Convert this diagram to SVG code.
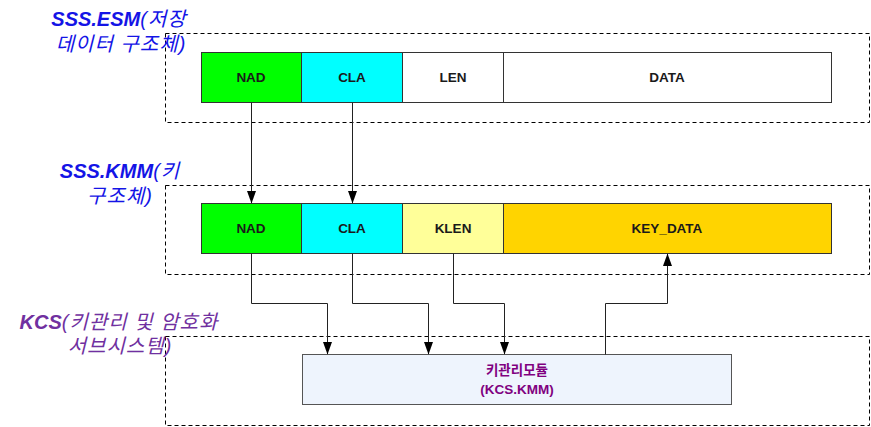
<svg xmlns="http://www.w3.org/2000/svg" width="871" height="427" viewBox="0 0 871 427">
<defs>
<marker id="ah" markerWidth="13" markerHeight="10" refX="12" refY="4.5" orient="auto" markerUnits="userSpaceOnUse">
<path d="M0,0 L12.5,4.5 L0,9 Z" fill="#000"/>
</marker>
<style>
.grp{fill:none;stroke:#000;stroke-width:1;stroke-dasharray:4 3}
.fld{stroke:#333;stroke-width:1}
.ft{font-family:"Liberation Sans","Noto Sans CJK KR",sans-serif;font-size:13.5px;font-weight:bold;fill:#1a1a1a;text-anchor:middle}
.lbl{font-family:"Liberation Sans","Noto Sans CJK KR",sans-serif;font-size:20px;font-style:italic;text-anchor:middle;letter-spacing:1px}
.conn{fill:none;stroke:#222;stroke-width:1;marker-end:url(#ah)}
</style>
</defs>
<rect width="871" height="427" fill="#fff"/>

<g id="esm">
<rect class="grp" x="165.5" y="33.5" width="704" height="89"/>
<text class="lbl" fill="#1414e6"><tspan x="119" y="26"><tspan font-weight="bold" letter-spacing="0">SSS.ESM</tspan>(저장</tspan><tspan x="121" y="51">데이터 구조체)</tspan></text>
</g>
<g id="esm-nad"><rect class="fld" x="201.5" y="52.5" width="100" height="50" fill="#00ff00"/><text class="ft" x="251" y="82">NAD</text></g>
<g id="esm-cla"><rect class="fld" x="301.5" y="52.5" width="101" height="50" fill="#00ffff"/><text class="ft" x="352" y="82">CLA</text></g>
<g id="esm-len"><rect class="fld" x="402.5" y="52.5" width="101" height="50" fill="#fff"/><text class="ft" x="453" y="82">LEN</text></g>
<g id="esm-data"><rect class="fld" x="503.5" y="52.5" width="328" height="50" fill="#fff"/><text class="ft" x="667" y="82">DATA</text></g>

<g id="kmm">
<rect class="grp" x="165.5" y="185.5" width="704" height="89"/>
<text class="lbl" fill="#1414e6"><tspan x="120" y="178"><tspan font-weight="bold" letter-spacing="0">SSS.KMM</tspan>(키</tspan><tspan x="120" y="203">구조체)</tspan></text>
</g>
<g id="kmm-nad"><rect class="fld" x="201.5" y="203.5" width="100" height="50" fill="#00ff00"/><text class="ft" x="251" y="233">NAD</text></g>
<g id="kmm-cla"><rect class="fld" x="301.5" y="203.5" width="101" height="50" fill="#00ffff"/><text class="ft" x="352" y="233">CLA</text></g>
<g id="kmm-klen"><rect class="fld" x="402.5" y="203.5" width="101" height="50" fill="#ffff99"/><text class="ft" x="453" y="233">KLEN</text></g>
<g id="kmm-keydata"><rect class="fld" x="503.5" y="203.5" width="328" height="50" fill="#ffd400"/><text class="ft" x="667" y="233">KEY_DATA</text></g>

<g id="kcs">
<rect class="grp" x="165.5" y="336.5" width="704" height="89"/>
<text class="lbl" fill="#7030a0"><tspan x="119" y="329"><tspan font-weight="bold" letter-spacing="0">KCS</tspan>(키관리 및 암호화</tspan><tspan x="120" y="353">서브시스템)</tspan></text>
</g>
<g id="kcs-kmm">
<rect x="302.5" y="354.5" width="429" height="50" fill="#eef4fd" stroke="#555" stroke-width="1"/>
<text class="ft" x="517" y="375" style="fill:#800080">키관리모듈</text>
<text class="ft" x="517" y="394" style="fill:#800080">(KCS.KMM)</text>
</g>

<g id="connectors">
<path class="conn" d="M251.5,102.5 V203"/>
<path class="conn" d="M352.5,102.5 V203"/>
<path class="conn" d="M251.5,253.5 V303.5 H327.5 V354"/>
<path class="conn" d="M352.5,253.5 V303.5 H428.5 V354"/>
<path class="conn" d="M453.5,253.5 V303.5 H504.5 V354"/>
<path class="conn" d="M605.5,354.5 V303.5 H667.5 V254"/>
</g>
</svg>
